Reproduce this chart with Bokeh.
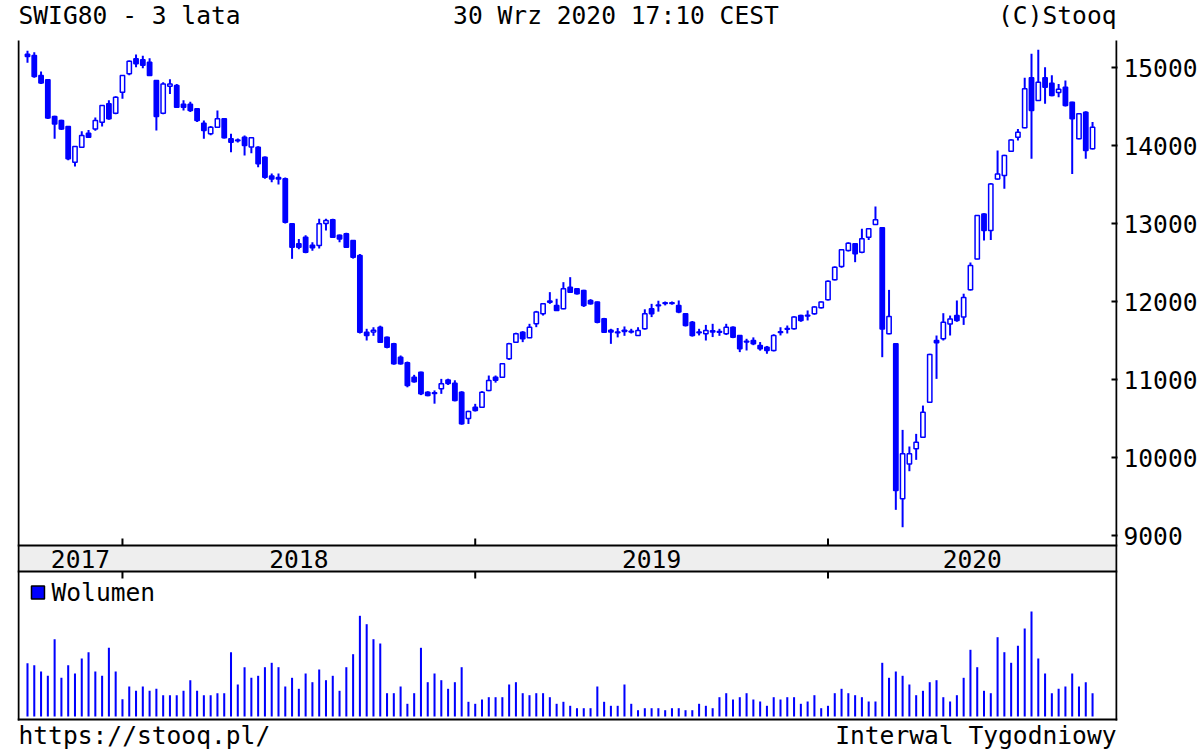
import pandas as pd
from bokeh.plotting import figure
from bokeh.models import Range1d, LinearAxis, FixedTicker, ColumnDataSource
from bokeh.core.properties import value
from bokeh.embed import file_html
from bokeh.resources import INLINE

# ------------------------------------------------------------------ data
title_left = "SWIG80 - 3 lata"
title_mid = "30 Wrz 2020 17:10 CEST"
title_right = "(C)Stooq"
footer_left = "https://stooq.pl/"
footer_right = "Interwal Tygodniowy"
volume_label = "Wolumen"

first_week_end = "2017-09-29"          # weekly candles, one per week
price_ticks = [9000, 10000, 11000, 12000, 13000, 14000, 15000]

open_ = [15170, 15154, 14897, 14842, 14372, 14320, 14243, 13786, 13978, 14158,
         14213, 14299, 14534, 14414, 14684, 14919, 15111, 15100, 15068, 14833,
         14414, 14760, 14769, 14530, 14530, 14470, 14286, 14150, 14235, 14342,
         14086, 14070, 14107, 13980, 13979, 13850, 13610, 13590, 13573, 12996,
         12739, 12825, 12720, 12718, 13000, 13047, 12850, 12868, 12782, 12590,
         11607, 11610, 11671, 11543, 11457, 11286, 11214, 11030, 11094, 10838,
         10830, 10880, 10995, 10953, 10838, 10500, 10645, 10645, 10859, 11030,
         11030, 11265, 11479, 11607, 11535, 11714, 11842, 11990, 11949, 11906,
         12184, 12163, 12141, 12013, 11992, 11778, 11630, 11610, 11630, 11620,
         11565, 11650, 11906, 11955, 11985, 11985, 11949, 11842, 11735, 11610,
         11586, 11625, 11615, 11586, 11671, 11564, 11490, 11500, 11437, 11415,
         11372, 11612, 11655, 11650, 11820, 11825, 11842, 11920, 12021, 12278,
         12449, 12654, 12740, 12632, 12825, 12987, 12944, 11585, 11457, 9470,
         9918, 10111, 10260, 10709, 11500, 11521, 11713, 11820, 11800, 12150,
         12546, 13123, 12910, 13572, 13615, 13927, 14106, 14226, 14867, 14577,
         14867, 14799, 14680, 14748, 14555, 14085, 14427, 13957]

high = [15215, 15196, 14950, 14850, 14380, 14330, 14250, 13990, 14183, 14200,
        14360, 14520, 14580, 14630, 14900, 15090, 15166, 15150, 15120, 14840,
        14810, 14850, 14790, 14580, 14560, 14480, 14320, 14250, 14449, 14350,
        14150, 14090, 14128, 14110, 13990, 13860, 13640, 13640, 13590, 13000,
        12800, 12850, 12760, 13060, 13060, 13060, 12860, 12880, 12790, 12610,
        11650, 11670, 11690, 11550, 11470, 11308, 11230, 11060, 11100, 10850,
        10860, 11008, 11010, 10990, 10850, 10600, 10688, 10850, 11051, 11051,
        11210, 11470, 11600, 11620, 11714, 11880, 11980, 12120, 12035, 12248,
        12312, 12170, 12150, 12030, 12000, 11790, 11650, 11660, 11680, 11650,
        11670, 11900, 11970, 12010, 12000, 12000, 12013, 11850, 11750, 11650,
        11700, 11714, 11650, 11714, 11680, 11570, 11522, 11540, 11480, 11430,
        11580, 11670, 11692, 11810, 11830, 11885, 11940, 12000, 12270, 12450,
        12670, 12760, 12750, 12932, 12940, 13218, 12950, 12149, 11460, 10354,
        10141, 10303, 10666, 11330, 11564, 11850, 11820, 12013, 12100, 12500,
        13110, 13130, 13520, 13936, 13880, 14080, 14213, 14867, 15175, 15226,
        15004, 14900, 14790, 14833, 14560, 14410, 14440, 14300]

low = [15060, 14870, 14790, 14340, 14085, 14200, 13810, 13730, 13970, 14100,
       14190, 14243, 14330, 14400, 14598, 14900, 15004, 14990, 14890, 14192,
       14400, 14660, 14480, 14450, 14430, 14300, 14085, 14130, 14230, 14090,
       13915, 14040, 13872, 13900, 13722, 13573, 13530, 13500, 13000, 12547,
       12670, 12620, 12650, 12680, 12910, 12820, 12760, 12690, 12550, 11590,
       11500, 11560, 11470, 11400, 11190, 11190, 10900, 10960, 10800, 10785,
       10690, 10816, 10930, 10720, 10420, 10430, 10590, 10640, 10850, 10960,
       11020, 11250, 11470, 11479, 11530, 11671, 11820, 11970, 11880, 11900,
       12110, 12090, 11930, 11960, 11720, 11600, 11457, 11540, 11560, 11590,
       11560, 11640, 11800, 11870, 11950, 11960, 11850, 11680, 11550, 11565,
       11500, 11544, 11560, 11570, 11530, 11351, 11372, 11440, 11370, 11330,
       11360, 11565, 11590, 11640, 11740, 11757, 11830, 11910, 12013, 12270,
       12432, 12640, 12504, 12620, 12790, 12980, 11286, 11580, 9329, 9106,
       9824, 9970, 10250, 10700, 11008, 11500, 11564, 11740, 11700, 12140,
       12540, 12782, 12790, 13560, 13444, 13920, 14064, 14220, 13829, 14570,
       14534, 14630, 14620, 14500, 13636, 14080, 13829, 13950]

close = [15140, 14884, 14800, 14354, 14277, 14213, 13829, 13987, 14128, 14107,
         14320, 14513, 14342, 14619, 14897, 15081, 15047, 15030, 14897, 14372,
         14790, 14790, 14491, 14490, 14450, 14320, 14192, 14235, 14342, 14098,
         14043, 14060, 14000, 14100, 13765, 13594, 13570, 13570, 13017, 12697,
         12697, 12632, 12690, 12996, 13040, 12825, 12800, 12697, 12568, 11607,
         11565, 11630, 11479, 11415, 11201, 11201, 10923, 10970, 10816, 10795,
         10820, 10944, 10950, 10731, 10432, 10590, 10603, 10838, 10987, 10990,
         11201, 11457, 11586, 11522, 11671, 11864, 11970, 12005, 11885, 12163,
         12120, 12099, 11949, 11970, 11735, 11607, 11610, 11600, 11615, 11610,
         11629, 11842, 11842, 11945, 11975, 11975, 11864, 11693, 11565, 11600,
         11629, 11610, 11605, 11671, 11543, 11394, 11480, 11458, 11394, 11372,
         11565, 11602, 11645, 11800, 11757, 11815, 11928, 11992, 12260, 12440,
         12662, 12748, 12611, 12803, 12932, 13047, 11649, 11807, 9576, 10047,
         10047, 10196, 10581, 11320, 11470, 11735, 11777, 11756, 12050, 12461,
         13102, 12910, 13508, 13636, 13871, 14072, 14171, 14726, 14449, 14812,
         14748, 14641, 14720, 14513, 14342, 14406, 13936, 14235]

# weekly volume (relative units)
volume = [53.3, 51.3, 45.0, 40.7, 77.3, 38.7, 51.3, 43.0, 58.0, 64.3,
          45.0, 40.7, 68.7, 45.0, 17.3, 30.0, 25.7, 30.0, 25.7, 27.7,
          21.3, 21.3, 21.3, 25.7, 36.3, 25.7, 21.3, 21.3, 23.3, 23.3,
          64.3, 32.0, 49.3, 38.7, 40.7, 49.3, 53.7, 49.3, 30.0, 38.7,
          27.7, 43.0, 34.3, 47.0, 36.3, 40.7, 25.7, 49.3, 62.3, 100.7,
          92.3, 77.3, 73.0, 23.3, 23.3, 30.0, 12.7, 23.3, 68.7, 34.3,
          43.0, 36.3, 27.7, 34.3, 49.3, 14.7, 12.7, 17.0, 19.3, 19.3,
          19.3, 32.0, 34.3, 23.3, 21.3, 23.3, 23.3, 19.3, 12.7, 14.7,
          10.7, 8.3, 8.3, 8.3, 30.0, 14.7, 10.7, 10.7, 32.0, 12.7,
          6.3, 8.3, 8.3, 8.3, 6.3, 8.3, 8.3, 6.3, 6.3, 12.7,
          10.7, 8.3, 19.3, 23.3, 17.0, 19.3, 23.3, 17.0, 15.0, 10.7,
          19.3, 17.0, 19.3, 19.3, 12.7, 15.0, 21.3, 8.3, 10.7, 23.3,
          27.7, 23.3, 21.3, 19.3, 15.0, 15.0, 53.7, 38.7, 45.0, 40.7,
          32.0, 21.3, 25.7, 34.3, 36.3, 19.3, 15.0, 21.3, 38.7, 66.7,
          49.3, 25.7, 23.3, 79.3, 64.3, 53.7, 70.7, 88.0, 105.0, 58.0,
          43.0, 23.3, 27.7, 30.0, 43.0, 30.0, 34.3, 23.3]

# ------------------------------------------------------------------ layout
BLUE = "#0000ff"
FONT = "DejaVu Sans Mono"
FS = "24.6px"

W, H = 1200, 750
FRAME_L, FRAME_R = 17, 1118          # plot frame spans full canvas height
BOX_L, BOX_R, BOX_T, BOX_B = 18, 1117, 40, 719   # drawn chart box
BAR_PX = 6.79            # pixels per weekly bar
FIRST_BAR_PX = 27
PX_PER_POINT = 0.078     # price scale
P_REF, P_REF_PX = 15000, 67
VOL_BASE_PX = 716        # baseline of volume bars
BAND_TOP_PX, BAND_BOT_PX = 545, 571

x0 = (FRAME_L - FIRST_BAR_PX) / BAR_PX
x1 = (FRAME_R - FIRST_BAR_PX) / BAR_PX
y_top = P_REF + P_REF_PX / PX_PER_POINT
y_bot = P_REF - (H - P_REF_PX) / PX_PER_POINT


def px_x(px):
    return x0 + (px - FRAME_L) / BAR_PX


def px_y(py):
    return VOL_BASE_PX - py


n = len(close)
idx = list(range(n))
dates = pd.date_range(first_week_end, periods=n, freq="W-FRI")

up = [c >= o for o, c in zip(open_, close)]
src = ColumnDataSource(dict(x=idx, o=open_, h=high, l=low, c=close, v=volume))
up_src = ColumnDataSource(dict(x=[i for i in idx if up[i]],
                               o=[open_[i] for i in idx if up[i]],
                               c=[close[i] for i in idx if up[i]]))
dn_src = ColumnDataSource(dict(x=[i for i in idx if not up[i]],
                               o=[open_[i] for i in idx if not up[i]],
                               c=[close[i] for i in idx if not up[i]]))

p = figure(width=W, height=H, output_backend="svg", toolbar_location=None,
           x_range=Range1d(x0, x1), y_range=Range1d(y_bot, y_top),
           x_axis_location=None, y_axis_location=None,
           min_border_left=FRAME_L, min_border_right=W - FRAME_R,
           min_border_top=0, min_border_bottom=0)
p.extra_y_ranges = {"px": Range1d(px_y(H), px_y(0))}
p.grid.visible = False
p.outline_line_color = None
p.background_fill_color = "white"
p.border_fill_color = "white"

# price axis (right)
right_ax = LinearAxis(ticker=FixedTicker(ticks=price_ticks), major_tick_in=6, major_tick_out=0,
                      minor_tick_line_color=None, axis_line_color=None, major_tick_line_width=2,
                      major_label_text_font=FONT, major_label_text_font_size=FS,
                      major_label_standoff=6, major_label_text_color="black")
p.add_layout(right_ax, "right")

# date band between price and volume panes
p.quad(left=[px_x(BOX_L)], right=[px_x(BOX_R)], bottom=[px_y(BAND_BOT_PX)],
       top=[px_y(BAND_TOP_PX)], y_range_name="px", fill_color="#eeeeee", line_color=None)

# chart box lines
hx0, hx1 = px_x(BOX_L - 1), px_x(BOX_R + 1)
p.segment(x0=[hx0, hx0, hx0], x1=[hx1, hx1, hx1],
          y0=[px_y(BAND_TOP_PX), px_y(BAND_BOT_PX), px_y(BOX_B)],
          y1=[px_y(BAND_TOP_PX), px_y(BAND_BOT_PX), px_y(BOX_B)],
          y_range_name="px", line_color="black", line_width=2)
p.segment(x0=[px_x(BOX_L), px_x(BOX_R)], x1=[px_x(BOX_L), px_x(BOX_R)],
          y0=[px_y(BOX_T), px_y(BOX_T)], y1=[px_y(BOX_B + 1), px_y(BOX_B + 1)],
          y_range_name="px", line_color="black", line_width=2)

years = sorted(set(d.year for d in dates))
bounds = [min(i for i in idx if dates[i].year == y) for y in years[1:]]
tick_len = 7
p.segment(x0=bounds, x1=bounds, y0=[px_y(BAND_TOP_PX)] * len(bounds),
          y1=[px_y(BAND_TOP_PX - tick_len)] * len(bounds), y_range_name="px",
          line_color="black", line_width=2)
p.segment(x0=bounds, x1=bounds, y0=[px_y(BAND_BOT_PX)] * len(bounds),
          y1=[px_y(BAND_BOT_PX + tick_len)] * len(bounds), y_range_name="px",
          line_color="black", line_width=2)
edges = [px_x(BOX_L)] + bounds + [px_x(BOX_R)]
label_x = []
min_c = px_x(BOX_L + 62)
for k in range(len(years)):
    label_x.append(max((edges[k] + edges[k + 1]) / 2, min_c))
p.text(x=label_x, y=[px_y((BAND_TOP_PX + BAND_BOT_PX) / 2)] * len(years),
       text=[str(y) for y in years], y_range_name="px",
       text_font=value(FONT), text_font_size=FS, text_align="center",
       text_baseline="middle", text_color="black")

# candles
p.segment(x0="x", x1="x", y0="l", y1="h", source=src, line_color=BLUE, line_width=2)
p.vbar(x="x", width=0.64, top="o", bottom="c", source=dn_src,
       fill_color=BLUE, line_color=BLUE, line_width=1.5)
p.vbar(x="x", width=0.64, top="c", bottom="o", source=up_src,
       fill_color="white", line_color=BLUE, line_width=1.5)

# volume
p.vbar(x="x", width=0.3, top="v", bottom=0, source=src, y_range_name="px",
       fill_color=BLUE, line_color=None)
p.scatter(x=[px_x(37.5)], y=[px_y(592)], marker="square", size=13, y_range_name="px",
          fill_color=BLUE, line_color="black", line_width=1.5)
p.text(x=[px_x(51)], y=[px_y(592)], text=[volume_label], y_range_name="px",
       text_font=value(FONT), text_font_size=FS, text_align="left",
       text_baseline="middle", text_color="black")

# header / footer
p.text(x=[px_x(BOX_L), px_x(453), px_x(BOX_R)], y=[px_y(15)] * 3,
       text=[title_left, title_mid, title_right], y_range_name="px",
       text_align=["left", "left", "right"],
       text_font=value(FONT), text_font_size=FS, text_baseline="middle",
       text_color="black")
p.text(x=[px_x(BOX_L), px_x(BOX_R)], y=[px_y(735)] * 2,
       text=[footer_left, footer_right], y_range_name="px",
       text_align=["left", "right"],
       text_font=value(FONT), text_font_size=FS, text_baseline="middle",
       text_color="black")

open("out.html", "w").write(file_html(p, INLINE))
